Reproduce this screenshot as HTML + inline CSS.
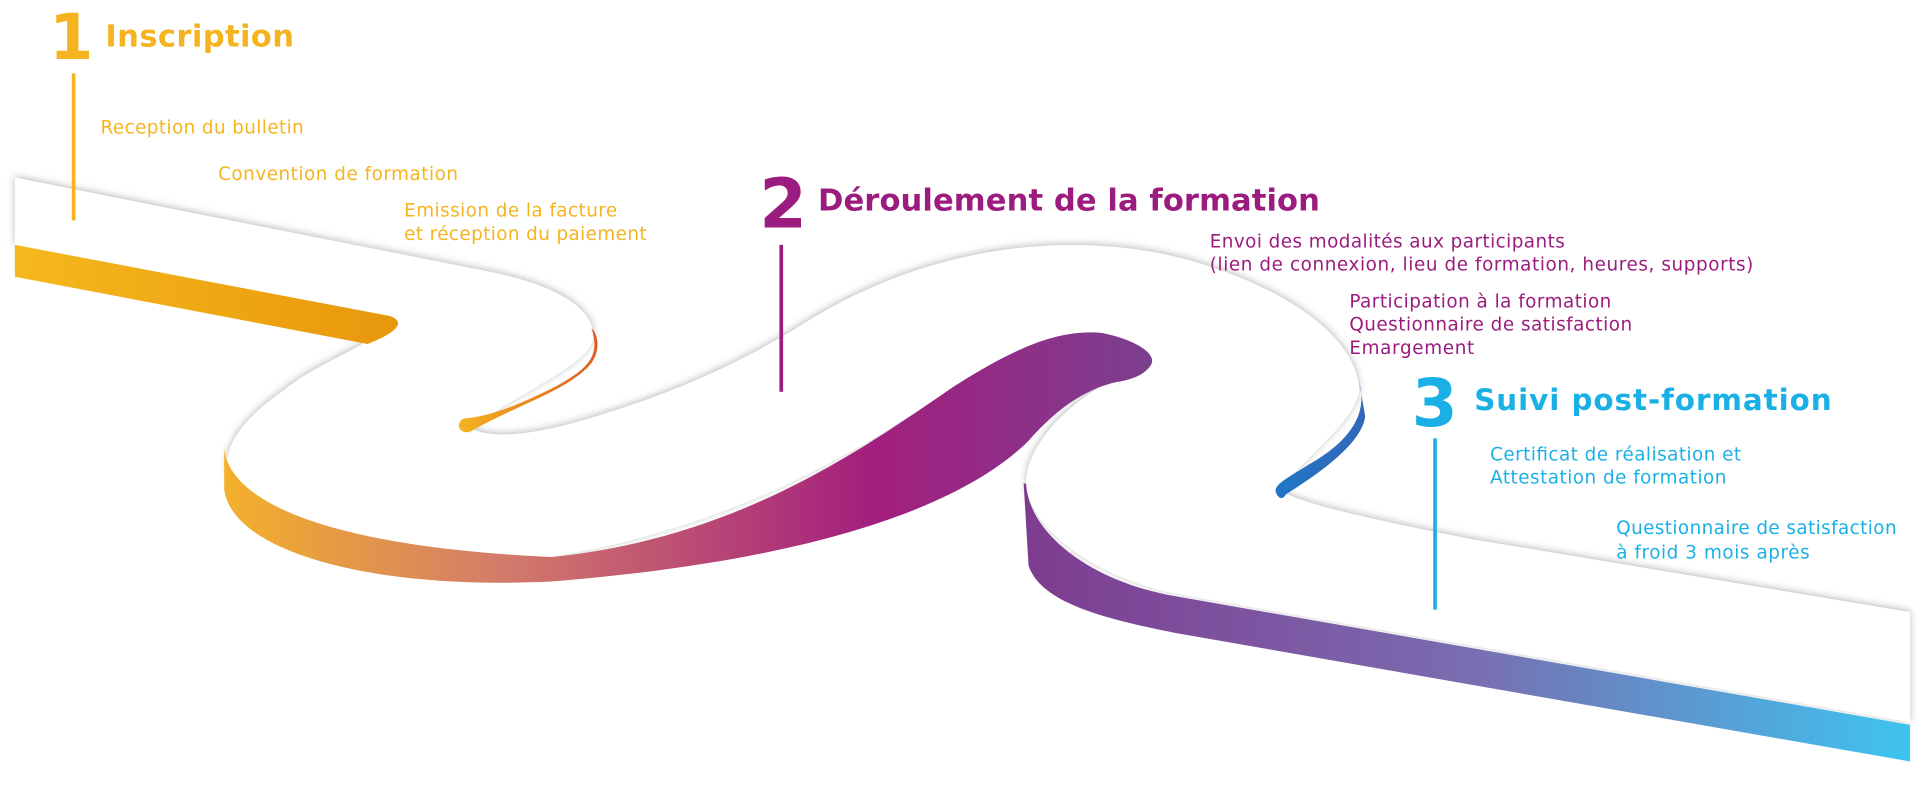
<!DOCTYPE html>
<html><head><meta charset="utf-8"><style>
html,body{margin:0;padding:0;background:#fff;width:1920px;height:786px;overflow:hidden}
svg{display:block}
text{font-family:"DejaVu Sans","Liberation Sans",sans-serif}
</style></head><body>
<svg width="1920" height="786" viewBox="0 0 1568 642" xmlns="http://www.w3.org/2000/svg">
<defs>
<filter id="sh" x="-5%" y="-10%" width="110%" height="120%"><feDropShadow dx="0" dy="-1" stdDeviation="3" flood-color="#888" flood-opacity="0.6"/></filter>
<linearGradient id="g1" x1="0" x2="1"><stop offset="0" stop-color="#f5b81c"/><stop offset="1" stop-color="#e8970c"/></linearGradient>
<linearGradient id="g2" x1="183" x2="940" gradientUnits="userSpaceOnUse"><stop offset="0" stop-color="#f3b02a"/><stop offset="0.3" stop-color="#d37b6a"/><stop offset="0.7" stop-color="#a31e7e"/><stop offset="1" stop-color="#7b3f8f"/></linearGradient>
<linearGradient id="g3" x1="830" x2="1560" gradientUnits="userSpaceOnUse"><stop offset="0" stop-color="#7e3b90"/><stop offset="0.5" stop-color="#7a6cb0"/><stop offset="1" stop-color="#3ec4ef"/></linearGradient>
<linearGradient id="g4" x1="375" x2="488" gradientUnits="userSpaceOnUse"><stop offset="0" stop-color="#f4b41f"/><stop offset="1" stop-color="#dc5e20"/></linearGradient>
<linearGradient id="g5" x1="1040" x2="1115" gradientUnits="userSpaceOnUse"><stop offset="0" stop-color="#1f78c4"/><stop offset="1" stop-color="#3466b8"/></linearGradient>
</defs>
<path filter="url(#sh)" fill="#fff" d="M12,145 L400,222 C460,234 488,255 484,278 C478,300 420,322 385,350 C400,358 430,356 470,345 C540,325 600,300 660,262 C760,200 880,185 980,215 C1060,240 1110,280 1110,320 C1105,345 1070,370 1045,400 C1060,410 1100,420 1200,440 L1560,500 L1560,590 L960,485 C890,470 840,430 838,395 C838,360 880,320 930,300 C945,292 930,280 900,272 C860,268 820,290 780,315 C700,370 600,430 450,455 C330,470 230,440 200,410 C175,385 180,355 230,320 C260,295 300,285 320,262 L12,200 Z"/>
<path fill="url(#g1)" d="M12,200 L318,258 C330,262 328,270 300,281 L12,226 Z"/>
<path fill="url(#g2)" d="M183,360 C180,400 240,445 450,455 C600,440 700,370 780,315 C820,290 860,268 900,272 C930,278 945,290 940,298 C935,306 925,310 912,312 C885,318 862,335 840,360 C800,400 700,455 450,475 C300,482 190,450 183,400 Z"/>
<path fill="url(#g3)" d="M838,395 C840,435 890,475 960,487 L1560,592 L1560,622 L960,517 C900,505 850,492 840,462 L836,395 Z"/>
<path fill="url(#g4)" d="M483,268 C490,290 482,300 455,315 C420,333 398,340 378,342 C370,348 378,356 385,352 C420,332 460,320 480,300 C490,290 490,275 483,268 Z"/>
<path fill="url(#g5)" d="M1110,312 C1118,340 1100,362 1068,380 C1052,390 1040,396 1042,402 C1044,408 1048,408 1050,404 C1080,385 1112,362 1115,340 Z"/>
<g fill="#f5b41f">
<text x="40" y="48" font-size="52" font-weight="bold">1</text>
<text x="86" y="38" font-size="25" font-weight="bold" textLength="154">Inscription</text>
<text x="82" y="109" font-size="15" textLength="166">Reception du bulletin</text>
<text x="178" y="147" font-size="15" textLength="196">Convention de formation</text>
<text x="330" y="177" font-size="15" textLength="174">Emission de la facture</text>
<text x="330" y="196" font-size="15" textLength="198">et réception du paiement</text>
</g>
<rect x="58.5" y="60" width="3" height="120" fill="#f5b41f"/>
<g fill="#9b1b7e">
<text x="620" y="186" font-size="56" font-weight="bold">2</text>
<text x="668" y="172" font-size="25" font-weight="bold" textLength="410">Déroulement de la formation</text>
<text x="988" y="202" font-size="15" textLength="290">Envoi des modalités aux participants</text>
<text x="988" y="221" font-size="15" textLength="444">(lien de connexion, lieu de formation, heures, supports)</text>
<text x="1102" y="251" font-size="15" textLength="214">Participation à la formation</text>
<text x="1102" y="270" font-size="15" textLength="231">Questionnaire de satisfaction</text>
<text x="1102" y="289" font-size="15" textLength="102">Emargement</text>
</g>
<rect x="636.5" y="200" width="3" height="120" fill="#9b1b7e"/>
<g fill="#1ab0e6">
<text x="1153" y="348" font-size="54" font-weight="bold">3</text>
<text x="1204" y="335" font-size="24" font-weight="bold" textLength="292">Suivi post-formation</text>
<text x="1217" y="376" font-size="15" textLength="205">Certificat de réalisation et</text>
<text x="1217" y="395" font-size="15" textLength="193">Attestation de formation</text>
<text x="1320" y="436" font-size="15" textLength="229">Questionnaire de satisfaction</text>
<text x="1320" y="456" font-size="15" textLength="158">à froid 3 mois après</text>
</g>
<rect x="1170.5" y="358" width="3" height="140" fill="#1ab0e6"/>
</svg>
</body></html>
